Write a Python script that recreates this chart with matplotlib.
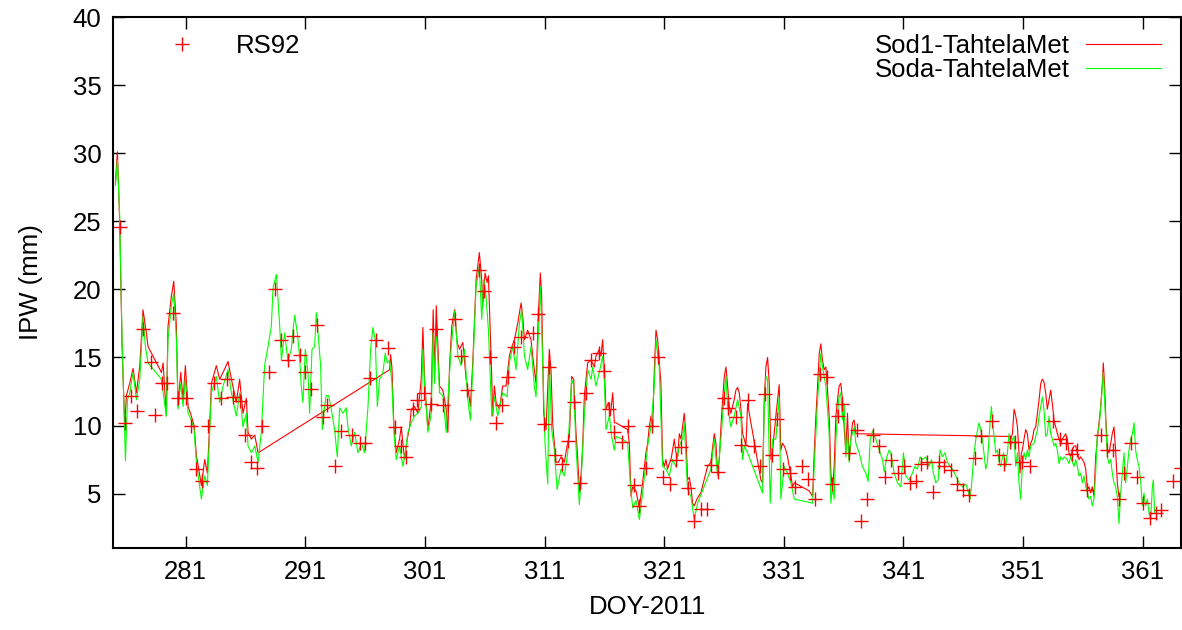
import matplotlib
matplotlib.use("Agg")
import matplotlib.pyplot as plt

plt.rcParams['font.family'] = ['Liberation Sans', 'DejaVu Sans']

# Sod1-TahtelaMet (red line)
sod1_doy = [
    275.12, 275.29, 275.48, 275.68, 275.90, 276.04, 276.32, 276.60, 276.88, 277.16,
    277.43, 277.71, 277.85, 278.97, 279.11, 279.25, 279.38, 279.52, 279.80, 280.00,
    280.22, 280.36, 280.58, 280.78, 280.97, 281.20, 281.47, 281.70, 281.89, 282.09,
    282.31, 282.59, 282.81, 283.01, 283.15, 283.56, 283.84, 284.12, 284.54, 284.82,
    285.23, 285.51, 285.79, 286.07, 286.21, 286.49, 286.77, 287.05,
    298.05, 298.13, 298.24, 298.41, 298.60, 298.88, 299.02, 299.30, 299.52, 299.72,
    299.86, 300.13, 300.41, 300.69, 300.83, 300.97, 301.25, 301.53, 301.69, 301.81,
    301.95, 302.22, 302.50, 302.78, 302.92, 303.06, 303.25, 303.48, 303.70, 303.90,
    304.17, 304.45, 304.73,
    304.80, 305.00, 305.28, 305.55, 305.75, 305.83, 306.03, 306.20, 306.31, 306.45,
    306.59, 306.67, 306.81, 306.95, 307.23, 307.50, 307.78, 308.06, 308.20, 308.48,
    308.76, 309.04, 309.18, 309.32, 309.59, 309.87, 310.01, 310.29, 310.49, 310.65,
    310.76, 310.93, 311.13, 311.40, 311.54, 311.68, 311.82, 311.96, 312.16, 312.38,
    312.66, 312.88, 313.08, 313.27, 313.44, 313.63, 313.77, 313.91, 314.05, 314.19,
    314.33, 314.61, 314.89, 315.17, 315.30, 315.58, 315.72, 315.86, 316.00, 316.14,
    316.34, 316.50, 316.70, 316.84, 316.98, 317.95, 318.09, 318.23, 318.37, 318.65,
    318.93, 319.20, 319.48,
    319.62, 319.76, 319.90, 320.04, 320.18, 320.32, 320.46, 320.59, 320.73, 320.87,
    321.01, 321.15, 321.29, 321.43, 321.57, 321.71, 321.85, 321.99, 322.13, 322.27,
    322.41, 322.54, 322.68, 322.82, 322.96, 323.10, 323.24, 323.38, 323.52, 323.74,
    324.08, 324.63, 324.91, 325.19, 325.33, 325.47, 325.61, 325.75, 325.89, 326.03,
    326.17, 326.31, 326.44, 326.58, 326.72, 326.86, 327.00, 327.14, 327.28, 327.42,
    327.56, 327.70, 327.84, 327.98, 329.09, 329.23, 329.37, 329.51, 329.65, 329.79,
    329.93, 330.07, 330.34, 330.62, 330.76, 330.90, 331.04, 331.18, 331.32, 331.46,
    331.60, 331.74, 331.88, 333.13, 333.41, 333.55, 333.69, 333.83, 333.97, 334.10,
    334.24, 334.38, 334.52, 334.66, 334.80,
    334.94, 335.08, 335.22, 335.36, 335.50, 335.63, 335.77, 335.91, 336.05, 336.19,
    336.33, 336.47, 336.61, 336.75, 336.89, 337.03, 349.84,
    349.98, 350.12, 350.26, 350.40, 350.54, 350.67, 350.76, 350.87, 350.95, 351.09,
    351.23, 351.37, 351.51, 351.65, 351.79, 351.93, 352.07, 352.21, 352.35, 352.49,
    352.62, 352.76, 352.90, 353.04, 353.18, 353.32, 353.46, 353.60, 353.74, 353.88,
    354.02, 354.16, 354.30, 354.44, 354.57, 354.71, 354.85, 354.99, 355.13, 355.27,
    355.41, 355.55, 355.69, 355.83, 355.97, 356.11, 356.25, 356.39, 356.52, 356.66,
    356.80, 356.94, 357.08, 357.22, 357.36, 357.50, 357.64, 357.72, 357.83, 357.92,
    358.06, 358.20, 358.34, 358.47, 358.61, 358.75, 358.89, 359.03,
]
sod1_ipw = [
    27.8, 30.1, 24.9, 15.8, 10.0, 12.2, 13.1, 14.2, 12.4, 14.4,
    18.5, 16.8, 15.8, 13.9, 14.6, 12.6, 10.7, 17.3, 19.5, 20.6,
    17.3, 11.4, 13.9, 11.9, 14.4, 11.4, 10.7, 10.0, 7.8, 6.8,
    5.6, 7.5, 6.5, 10.2, 13.1, 14.4, 13.4, 13.9, 14.7, 13.4,
    11.7, 13.4, 10.9, 12.0, 9.5, 9.0, 9.3, 8.0,
    14.1, 15.2, 14.3, 9.9, 8.0, 9.0, 9.9, 7.5, 9.0, 9.9,
    11.2, 11.4, 10.9, 13.4, 17.2, 13.4, 9.7, 11.9, 18.5, 13.9,
    18.8, 12.9, 12.6, 11.2, 9.5, 14.4, 17.3, 18.5, 16.1, 15.6,
    16.1, 13.4, 11.9,
    11.4, 14.6, 20.7, 22.7, 20.7, 18.7, 21.2, 20.5, 21.0, 17.3,
    13.4, 10.7, 12.9, 11.7, 11.2, 12.9, 12.9, 15.1, 15.6, 16.3,
    17.5, 19.0, 18.0, 16.3, 17.0, 16.3, 15.1, 13.1, 18.3, 21.2,
    19.5, 10.9, 9.7, 15.6, 14.1, 10.2, 8.7, 7.3, 7.3, 7.7,
    7.3, 8.5, 9.2, 13.6, 13.4, 9.5, 7.7, 5.1, 6.3, 8.5,
    12.2, 14.6, 14.8, 14.3, 15.1, 15.6, 15.1, 16.3, 14.1, 11.2,
    11.7, 10.7, 12.4, 10.2, 10.2, 9.7, 8.7, 4.8, 5.5, 5.2,
    3.95, 5.8, 8.0,
    8.7, 9.9, 10.7, 9.9, 14.1, 17.0, 16.3, 14.8, 13.1, 7.5,
    7.0, 7.5, 6.8, 7.2, 7.5, 8.2, 9.0, 8.0, 7.7, 9.4,
    9.0, 9.9, 10.9, 9.4, 6.0, 6.2, 5.5, 4.3, 4.1, 4.6,
    5.1, 7.0, 7.3, 9.4, 8.7, 6.5, 7.5, 9.9, 11.9, 13.6,
    14.3, 12.9, 11.4, 10.9, 11.4, 11.9, 12.6, 12.8, 12.4, 11.2,
    9.4, 9.0, 8.5, 11.6, 6.0, 5.8, 11.9, 14.3, 15.0, 13.1,
    7.5, 8.2, 10.7, 13.0, 8.2, 8.7, 8.5, 8.2, 7.7, 7.0,
    6.3, 5.5, 5.8, 5.2, 4.8, 8.0, 10.7, 12.9, 15.3, 16.0,
    14.8, 14.1, 14.3, 12.6, 10.7,
    6.5, 5.3, 7.0, 10.7, 11.9, 12.9, 13.1, 11.9, 9.9, 8.0,
    10.9, 7.5, 9.0, 10.2, 10.4, 9.4, 9.2,
    9.0, 9.4, 11.2, 10.7, 9.9, 8.0, 6.5, 8.0, 8.2, 9.0,
    9.7, 9.4, 8.2, 8.7, 9.0, 9.7, 9.9, 10.9, 11.9, 13.1,
    13.4, 13.2, 12.4, 11.2, 11.9, 12.6, 11.6, 10.4, 9.9, 9.4,
    9.0, 8.7, 9.0, 9.2, 9.4, 9.0, 8.0, 7.7, 8.2, 8.5,
    8.5, 8.0, 7.5, 7.7, 7.5, 7.3, 6.8, 5.3, 5.5, 5.05,
    5.5, 4.8, 7.7, 9.0, 10.2, 11.4, 13.1, 14.6, 12.9, 10.7,
    8.2, 8.0, 8.7, 9.4, 9.9, 8.2, 5.8, 4.8,
]

# Soda-TahtelaMet (green line)
soda_doy = [
    275.12, 275.29, 275.48, 275.68, 275.96, 276.13, 276.32, 276.60, 276.88, 277.16,
    277.43, 277.63, 277.85, 278.97, 279.19, 279.38, 279.52, 279.80, 280.00, 280.22,
    280.36, 280.58, 280.78, 280.97, 281.20, 281.47, 281.70, 281.89, 282.09, 282.31,
    282.59, 282.81, 283.01, 283.15, 283.56, 283.84, 284.12, 284.54, 284.82, 285.23,
    285.51, 285.79, 286.07, 286.21, 286.49, 286.77, 287.05, 287.32, 287.60, 287.88,
    288.16, 288.30, 288.58, 288.86, 289.00, 289.27,
    289.55, 289.83, 289.97, 290.11, 290.33, 290.52, 290.66, 290.80, 291.00, 291.22,
    291.36, 291.56, 291.78, 291.92, 292.11, 292.28, 292.42, 292.61, 292.75, 292.95,
    293.17, 293.45, 293.67, 293.87, 294.15, 294.42, 294.56, 294.84, 295.12, 295.40,
    295.68, 295.96, 296.24, 296.46, 296.65, 296.85, 297.02, 297.21, 297.49, 297.68,
    297.85, 298.05, 298.24, 298.41, 298.60, 298.88, 299.16, 299.36, 299.58, 299.86,
    300.13, 300.41, 300.69, 300.83, 300.97, 301.25, 301.53, 301.69, 301.81, 301.95,
    302.22, 302.50, 302.78, 302.92, 303.20, 303.48, 303.76, 304.03, 304.31, 304.59,
    304.80, 305.00, 305.28, 305.55, 305.75, 305.92, 306.11, 306.31, 306.59, 306.81,
    307.09, 307.50, 307.87, 308.06, 308.34, 308.62, 308.90, 309.09, 309.32, 309.59,
    309.87, 310.15, 310.29, 310.49, 310.65, 310.85, 311.04, 311.27, 311.40, 311.60,
    311.82, 312.05, 312.38, 312.66, 312.94, 313.27, 313.44, 313.63, 313.91, 314.05,
    314.33, 314.61, 314.89, 315.03, 315.30, 315.58, 315.86, 316.00, 316.14, 316.42,
    316.61, 316.84, 316.98, 317.53, 317.95, 318.17, 318.37, 318.65, 318.93, 319.20,
    319.48,
    319.62, 319.90, 320.18, 320.32, 320.59, 320.87, 321.15, 321.43, 321.71, 321.99,
    322.27, 322.54, 322.68, 322.96, 323.24, 323.52, 323.80, 324.91, 325.19, 325.47,
    325.75, 326.03, 326.17, 326.31, 326.58, 326.86, 327.14, 327.42, 327.56, 327.70,
    327.98, 329.23, 329.37, 329.51, 329.65, 329.87, 330.07, 330.34, 330.62, 330.76,
    331.04, 331.32, 331.60, 331.88, 333.41, 333.55, 333.83, 334.10, 334.24, 334.52,
    334.80,
    334.94, 335.08, 335.22, 335.36, 335.50, 335.63, 335.77, 335.91, 336.05, 336.19,
    336.33, 336.47, 336.61, 336.89, 337.03, 337.31, 337.58, 337.86, 338.06, 338.23,
    338.42, 338.70, 338.98, 339.26, 339.40, 339.62, 339.81, 339.95, 340.23, 340.51,
    340.79, 341.01, 341.21, 341.48, 341.76, 341.96, 342.18, 342.40, 342.60, 342.88,
    343.16, 343.35, 343.52, 343.71, 343.91, 344.07, 344.27, 344.47, 344.69, 344.91,
    345.11, 345.38, 345.66, 345.94, 346.22, 346.42, 346.58, 346.69, 346.86, 347.06,
    347.33, 347.47, 347.61, 347.89, 348.03, 348.25, 348.36, 348.50, 348.73, 348.87,
    349.01, 349.14, 349.37, 349.56, 349.70,
    349.84, 349.98, 350.12, 350.26, 350.40, 350.54, 350.67, 350.81, 350.95, 351.09,
    351.23, 351.37, 351.51, 351.65, 351.93, 352.21, 352.35, 352.49, 352.62, 352.76,
    352.90, 353.04, 353.18, 353.32, 353.46, 353.60, 353.74, 353.88, 354.02, 354.16,
    354.30, 354.44, 354.71, 354.85, 354.99, 355.27, 355.41, 355.55, 355.69, 355.83,
    355.97, 356.11, 356.25, 356.39, 356.52, 356.66, 356.80, 356.94, 357.08, 357.22,
    357.36, 357.50, 357.72, 357.83, 357.92, 358.06, 358.20, 358.34, 358.47, 358.61,
    358.75, 358.89, 359.03, 359.17, 359.31, 359.45, 359.59, 359.73, 359.87, 360.01,
    360.15, 360.29, 360.42, 360.56, 360.70, 360.84, 360.98, 361.12, 361.26, 361.40,
    361.54, 361.68, 361.82, 361.90, 362.01,
]
soda_ipw = [
    27.6, 29.5, 25.4, 16.3, 7.4, 11.9, 12.4, 13.9, 11.9, 13.4,
    18.0, 15.8, 14.6, 13.4, 11.9, 10.7, 16.3, 18.8, 19.7, 16.3,
    11.2, 13.1, 11.4, 13.4, 10.9, 10.4, 9.7, 7.3, 6.0, 4.6,
    6.3, 5.6, 9.5, 12.4, 13.6, 11.7, 12.9, 14.1, 12.4, 10.7,
    12.4, 9.9, 10.9, 8.5, 8.0, 8.5, 7.3, 9.5, 14.4, 15.8,
    17.3, 20.1, 21.1, 17.3, 14.8, 16.8,
    14.7, 15.6, 17.0, 18.1, 16.8, 15.1, 12.9, 11.7, 15.6, 13.9,
    10.9, 15.6, 15.8, 18.3, 16.3, 14.4, 9.7, 11.4, 12.2, 12.2,
    11.2, 9.7, 7.7, 11.3, 10.9, 11.3, 9.9, 8.5, 9.5, 8.0,
    8.7, 8.0, 11.4, 15.6, 17.2, 16.3, 11.4, 13.4, 13.9, 15.3,
    14.6, 14.8, 13.1, 9.5, 7.5, 8.5, 7.0, 8.0, 9.5, 10.2,
    10.7, 10.9, 11.4, 15.6, 13.1, 9.5, 10.9, 16.8, 13.1, 17.3,
    12.4, 12.2, 9.5, 11.9, 15.8, 18.4, 15.1, 14.4, 15.6, 11.9,
    10.4, 14.1, 20.2, 21.7, 17.8, 20.7, 19.5, 17.0, 10.7, 12.1,
    10.7, 12.4, 12.1, 14.6, 15.8, 14.1, 17.5, 18.5, 15.1, 14.1,
    15.8, 12.9, 12.1, 17.0, 20.2, 14.6, 8.7, 5.7, 14.6, 9.7,
    8.2, 5.3, 6.8, 6.3, 8.0, 13.4, 12.9, 8.5, 4.2, 5.8,
    10.7, 14.1, 13.4, 14.3, 12.9, 13.9, 15.1, 13.4, 9.7, 10.7,
    9.2, 8.2, 9.2, 9.0, 8.7, 5.8, 3.95, 4.5, 3.1, 5.0,
    7.3,
    8.5, 9.9, 12.9, 16.3, 14.3, 7.0, 6.8, 6.3, 7.5, 7.0,
    8.5, 9.0, 10.2, 5.3, 4.8, 3.1, 4.3, 6.8, 9.0, 6.3,
    9.0, 12.4, 13.6, 11.4, 9.9, 10.7, 11.9, 10.7, 7.5, 8.5,
    8.0, 5.05, 11.2, 13.6, 13.4, 4.3, 9.0, 9.0, 12.1, 4.6,
    7.0, 6.5, 5.8, 4.6, 4.3, 7.0, 11.9, 15.3, 14.3, 12.9,
    9.4,
    4.3, 5.5, 4.6, 9.0, 10.9, 12.1, 12.4, 10.4, 11.6, 7.7,
    9.4, 7.3, 9.0, 9.9, 8.7, 8.0, 7.0, 6.5, 5.9, 9.0,
    9.6, 9.0, 8.2, 7.5, 6.6, 7.7, 8.2, 8.0, 6.5, 5.8,
    5.5, 8.0, 6.3, 6.0, 6.5, 7.0, 6.8, 7.7, 7.5, 7.7,
    7.0, 7.5, 6.5, 5.8, 6.0, 8.2, 7.7, 8.0, 7.3, 7.0,
    6.8, 6.3, 5.8, 5.5, 5.7, 5.2, 4.6, 5.5, 7.5, 9.0,
    10.2, 9.7, 9.0, 6.8, 7.3, 10.2, 11.4, 9.9, 8.0, 8.2,
    7.3, 7.0, 8.0, 7.0, 8.0,
    9.4, 8.5, 9.0, 9.2, 7.0, 8.0, 5.8, 4.6, 7.0, 8.0,
    7.5, 8.2, 7.7, 8.5, 8.7, 9.7, 10.7, 11.4, 12.1, 11.2,
    9.2, 9.4, 10.7, 9.4, 9.0, 8.5, 8.7, 8.2, 7.2, 7.7,
    7.5, 7.7, 7.5, 7.2, 7.7, 7.0, 7.5, 7.0, 6.3, 6.5,
    5.8, 6.3, 5.5, 5.05, 4.6, 4.8, 4.1, 4.6, 6.5, 9.4,
    9.9, 11.2, 13.9, 11.9, 10.4, 7.7, 7.2, 7.5, 6.5, 5.8,
    5.5, 4.8, 2.8, 5.05, 6.5, 8.0, 5.8, 7.0, 8.2, 9.0,
    9.4, 10.2, 8.2, 7.5, 7.0, 6.0, 4.1, 5.05, 4.1, 4.6,
    3.6, 3.1, 5.5, 6.0, 3.6,
]

# RS92 radiosonde (red crosses)
rs92_doy = [
    275.48, 275.90, 276.40, 276.96, 277.43, 278.08, 278.47, 279.02, 279.47, 279.94,
    280.36, 281.06, 281.47, 281.89, 282.39, 282.87, 283.37, 283.98, 284.48, 284.96,
    285.51, 285.93, 286.49, 286.99, 287.38, 287.96, 288.44, 288.94, 289.55, 289.97,
    290.52, 290.94, 291.44, 292.00, 292.47, 292.84, 293.45, 293.95, 294.90, 295.54,
    296.01, 296.37, 296.93, 297.91, 298.46, 299.02, 299.44, 299.99, 300.36, 300.92,
    301.47, 301.95, 302.50, 303.48, 303.98, 304.50, 305.55, 305.97, 306.47, 306.98,
    307.42, 307.92, 308.48, 309.04, 310.01, 310.43, 310.97, 311.40, 311.85, 312.47,
    312.94, 313.44, 314.00, 314.47, 314.89, 315.58, 315.95, 316.42, 316.78, 317.45,
    317.95, 318.48, 318.93, 319.48, 319.95, 320.46, 320.94, 321.51, 321.99, 322.41,
    322.96, 323.46, 324.08, 324.58, 324.91, 325.47, 325.97, 326.31, 327.00, 327.42,
    327.98, 328.48, 329.03, 329.43, 329.98, 330.43, 330.90, 331.54, 331.93, 332.49,
    333.05, 333.60, 334.05, 334.60, 335.00, 335.50, 335.91, 336.47, 337.11, 337.45,
    338.00, 338.50, 338.98, 339.45, 339.95, 340.57, 341.07, 341.57, 342.04, 342.51,
    342.96, 343.52, 343.99, 344.41, 344.97, 345.52, 346.02, 346.50, 346.97, 347.47,
    348.45, 349.00, 349.42, 349.90, 350.31, 350.95, 351.60, 353.54, 354.10, 354.57,
    355.13, 355.55, 356.33, 357.50, 358.06, 358.56, 359.03, 359.45, 360.06, 360.56,
    361.07, 361.62, 362.10, 362.57, 363.57, 364.18,
]
rs92_ipw = [
    24.6, 10.2, 12.2, 11.1, 17.1, 14.7, 10.8, 13.1, 13.1, 18.3,
    12.0, 12.0, 10.0, 6.8, 5.9, 10.0, 13.1, 12.0, 13.4, 12.1,
    11.8, 9.3, 7.3, 6.9, 10.0, 13.9, 20.0, 16.3, 14.8, 16.6,
    15.2, 13.9, 12.7, 17.4, 10.6, 11.5, 7.0, 9.6, 9.3, 8.7,
    8.7, 13.5, 16.3, 15.7, 9.9, 8.5, 7.7, 11.2, 11.9, 12.4,
    11.6, 17.1, 11.5, 17.8, 15.1, 12.6, 21.4, 19.9, 15.0, 10.2,
    11.5, 13.6, 15.8, 16.5, 16.8, 18.2, 10.1, 14.3, 7.8, 7.2,
    8.9, 11.7, 5.8, 12.4, 14.8, 15.3, 14.0, 11.2, 9.5, 8.8,
    10.0, 5.6, 4.1, 6.9, 10.0, 15.0, 6.2, 5.7, 7.5, 8.4,
    5.4, 3.0, 3.9, 3.9, 7.1, 6.6, 12.0, 11.3, 10.6, 8.6,
    11.9, 8.5, 7.0, 12.3, 7.8, 10.5, 6.8, 6.5, 5.5, 7.0,
    6.1, 4.6, 13.8, 13.6, 5.7, 10.7, 11.6, 8.0, 9.7, 3.0,
    4.6, 9.3, 8.5, 6.2, 7.5, 6.5, 7.0, 5.8, 5.9, 7.2,
    7.3, 5.1, 7.3, 7.0, 6.7, 5.7, 5.3, 4.9, 7.6, 9.2,
    10.3, 7.8, 7.2, 8.8, 8.8, 7.3, 7.0, 10.3, 9.0, 8.7,
    7.9, 8.2, 5.3, 9.3, 8.2, 8.2, 4.6, 6.5, 8.7, 6.2,
    4.3, 3.2, 3.6, 3.8, 5.9, 6.9,
]

xticks = [281, 291, 301, 311, 321, 331, 341, 351, 361]
yticks = [5, 10, 15, 20, 25, 30, 35, 40]

fig = plt.figure(figsize=(11.82, 6.30), dpi=100)
ax = fig.add_axes([0.0959, 0.130, 0.9031, 0.843])

l_sod1, = ax.plot(sod1_doy, sod1_ipw, color='#ff0000', lw=0.8)
l_soda, = ax.plot(soda_doy, soda_ipw, color='#00ff00', lw=0.8)
p_rs92, = ax.plot(rs92_doy, rs92_ipw, ls='none', marker='+', ms=10, mew=1.0,
                  color='#ff0000')

ax.set_xlim(274.95, 364.2)
ax.set_ylim(1, 40)
ax.set_xticks(xticks)
ax.set_yticks(yticks)
ax.tick_params(direction='in', top=True, right=True, length=8.6, width=1.0,
               labelsize=18.5, pad=8.6)
for s in ax.spines.values():
    s.set_linewidth(1.5)

ax.set_xlabel('DOY-2011', fontsize=18.5)
ax.set_ylabel('IPW (mm)', fontsize=18.5)
ax.xaxis.set_label_coords(0.5, -0.088)
ax.yaxis.set_label_coords(-0.066, 0.5)

leg1 = ax.legend([p_rs92], ['RS92'], loc='upper left',
                 bbox_to_anchor=(0.046, 0.968), frameon=False, fontsize=18.5,
                 borderpad=0, borderaxespad=0, handlelength=1.5,
                 handletextpad=1.35)
ax.add_artist(leg1)
ax.legend([l_sod1, l_soda], ['Sod1-TahtelaMet', 'Soda-TahtelaMet'],
          loc='upper right', bbox_to_anchor=(0.981, 0.968), frameon=False,
          fontsize=18.5, borderpad=0, borderaxespad=0, handlelength=2.9,
          handletextpad=0.65, labelspacing=0.0, markerfirst=False)

fig.savefig('out.png', dpi=100)
